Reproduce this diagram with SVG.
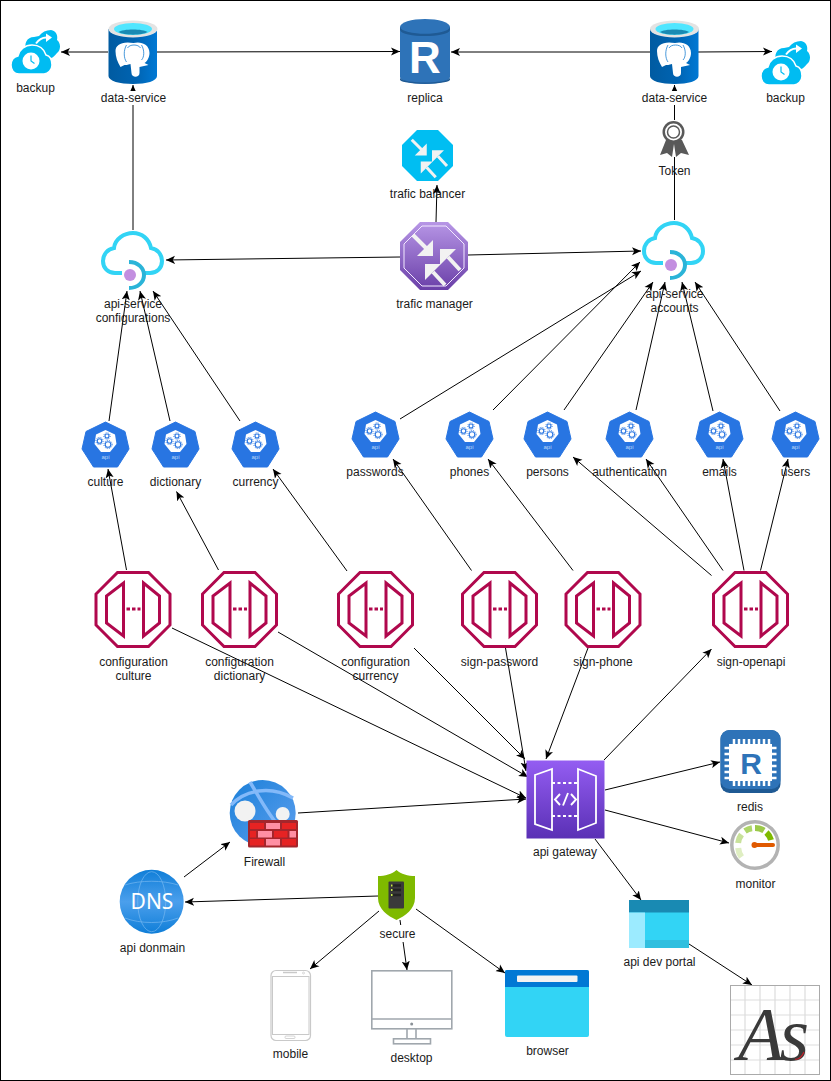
<svg xmlns="http://www.w3.org/2000/svg" xmlns:xlink="http://www.w3.org/1999/xlink" width="831" height="1081" viewBox="0 0 831 1081">
<style>
text{font-family:"Liberation Sans",Arial,Helvetica,sans-serif;font-size:12px;fill:#1a1a1a;text-anchor:middle}
.c path{fill:none;stroke:#000;stroke-width:1;marker-end:url(#ah)}
.bg{fill:#fff}
.oct{fill:none;stroke:#b0084d;stroke-width:3}
.cl{fill:none;stroke:#32d4f5;stroke-width:4}
.brk{fill:#e62323}.brp{fill:#ff8fa3}
</style>
<defs>
<marker id="ah" markerUnits="userSpaceOnUse" markerWidth="9" markerHeight="9" viewBox="0 0 8 8" refX="8" refY="4" orient="auto"><path d="M8,4 L0,0.4 L2,4 L0,7.6 Z" fill="#000"/></marker>
<linearGradient id="gDb" x1="0" x2="1" y1="0" y2="0"><stop offset="0" stop-color="#005ba1"/><stop offset="0.55" stop-color="#0063b1"/><stop offset="1" stop-color="#0078d4"/></linearGradient>
<linearGradient id="gTm" x1="0" x2="0" y1="0" y2="1"><stop offset="0" stop-color="#b796e6"/><stop offset="1" stop-color="#6a3fa8"/></linearGradient>
<linearGradient id="gGw" x1="0" x2="0" y1="0" y2="1"><stop offset="0" stop-color="#945df2"/><stop offset="1" stop-color="#5a30b5"/></linearGradient>
<linearGradient id="gDns" x1="0" x2="0" y1="0" y2="1"><stop offset="0" stop-color="#0f7ed8"/><stop offset="0.5" stop-color="#4b9fec"/><stop offset="1" stop-color="#0f7ed8"/></linearGradient>
<linearGradient id="gGl" x1="0" x2="1" y1="0" y2="1"><stop offset="0" stop-color="#1a7fd8"/><stop offset="1" stop-color="#5ea0ef"/></linearGradient>
<g id="pg">
<path d="M0,9 V56 C0,61 11,64 24.500,64 C38,64 48.500,61 48.500,56 V9 Z" fill="url(#gDb)"/>
<ellipse cx="24.500" cy="9" rx="24.500" ry="8.500" fill="#e3e3e3"/>
<ellipse cx="24.500" cy="9" rx="19" ry="6" fill="#50e6ff"/>
<path d="M10,12 C14,8.500 35,8.500 39,12 C34,15.500 15,15.500 10,12 Z" fill="#198ab3"/>
<path d="M25,23 C32,21 41,24 41,33 C41,38 38,42 36,43 L40,45 L31,47 L31,53 C31,58 23,58 23,53 L22,44 C19,45 17,45 16,45 L12,47 C9,42 7,37 7,31 C7,25 13,21 25,23 Z" fill="#fff"/>
<path d="M18,25 C15,30 15,38 18,42 M33,25 C36,30 36,37 33,40 M19,28 C21,24 30,24 32,28" fill="none" stroke="#1a7fd0" stroke-width="0.800"/>
</g>
<g id="bk">
<path d="M16,21 C12,14 16,7 23,7 L28,6 C31,2 35,0 40,0 C45,1 47,5 46,10 C50,13 50,20 46,23 C44,25 42,28 40,28 L24,28 Z" fill="#00bcf2"/>
<path d="M8,44 C3,44 0,40 0,35 C0,30 3,27 7,26 C8,20 14,15 21,15 C28,15 33,19 35,25 C39,26 41,30 41,35 C41,40 37,44 33,44 Z" fill="#00bcf2" stroke="#fff" stroke-width="1.500"/>
<circle cx="20" cy="31" r="8.500" fill="#fff"/>
<path d="M20,25.500 V31 L23.500,33.500" fill="none" stroke="#00bcf2" stroke-width="1.200"/>
<path d="M25,13.500 C28,9 33,7 37,7.500" fill="none" stroke="#fff" stroke-width="2"/>
<path d="M35,3.500 L41,7.500 L35,12 Z" fill="#fff"/>
</g>
<g id="arr3" fill="none">
<path d="M13,13 L29,29 M48,35 L60,48 M33,50 L45,63" stroke="#f2f2f2" stroke-width="4"/>
<path d="M33,34 H17 L33,18 Z M40,27 V43 L56,27 Z M25,42 V58 L41,42 Z" fill="#f2f2f2"/>
</g>
<g id="cloud">
<path class="cl" d="M22,43 H15 C8,43 3,38 3,31 C3,24 8,19 14,18 C15,9 24,3 33,3 C42,3 49,9 51,18 C57,19 62,24 62,31 C62,38 57,43 50,43 H45"/>
<path d="M29,32 C38,32 44,38 44,45 C44,52 38,58 29,58" fill="none" stroke="#2bb4d8" stroke-width="4"/>
<circle cx="30" cy="45" r="6" fill="#c38fe0"/>
</g>
<g id="k8s">
<path d="M23.500,0 L43,9.500 L47,27 L35.500,45 H11.500 L0,27 L4,9.500 Z" fill="#2875e2" stroke="#2875e2" stroke-linejoin="round"/>
<path d="M23.500,8 L33,12.500 L34.500,22 L28,30 H19 L12.500,22 L14,12.500 Z" fill="#fff"/>
<g fill="none" stroke="#2875e2" stroke-width="1.100"><circle cx="17.500" cy="19" r="2.300"/><circle cx="25" cy="14" r="2"/><circle cx="26" cy="22.500" r="2.800"/></g>
<g fill="none" stroke="#2875e2" stroke-width="1" stroke-dasharray="1,1.200"><circle cx="17.500" cy="19" r="3.600"/><circle cx="25" cy="14" r="3.200"/><circle cx="26" cy="22.500" r="4.100"/></g>
<text x="23.500" y="36.500" style="font-size:6px;fill:#bcd5f8">api</text>
</g>
<g id="api">
<path class="oct" d="M23,1.500 H54 L75.500,23 V54 L54,75.500 H23 L1.500,54 V23 Z"/>
<path class="oct" d="M29,12 V65 L12,52 V25 Z M49,12 V65 L65,52 V25 Z"/>
<path d="M32,38 H46" fill="none" stroke="#b0084d" stroke-width="3" stroke-dasharray="3.500,2"/>
</g>
</defs>
<rect x="0.500" y="0.500" width="830" height="1080" fill="#fff" stroke="#000"/>
<g id="connectors" class="c">
<path d="M108,52 L61,52"/>
<path d="M157,52 L400,51.500"/>
<path d="M650,52 L451,52"/>
<path d="M698,52 L772,51.500"/>
<path d="M133,230 L133,85"/>
<path d="M674.500,220 L674.500,85"/>
<path d="M436,222 L437,185"/>
<path d="M400,257 L166,260"/>
<path d="M468,255 L641,251"/>
<path d="M109,421 L127,291"/>
<path d="M170,421 L140,291"/>
<path d="M240,421 L153,291"/>
<path d="M400,419 L641,271"/>
<path d="M493,410 L640,262"/>
<path d="M564,410 L653,282"/>
<path d="M636,410 L665,282"/>
<path d="M713,411 L682,282"/>
<path d="M780,411 L695,282"/>
<path d="M126.500,570 L108,469"/>
<path d="M218.500,570 L176.500,491.500"/>
<path d="M347,571 L273,469"/>
<path d="M471.500,570.500 L393,459"/>
<path d="M573,570.500 L488,459"/>
<path d="M711.500,575.500 L573,457"/>
<path d="M723,570.500 L646,459"/>
<path d="M744,570.500 L723,459"/>
<path d="M760.500,570.500 L788,459"/>
<path d="M172,628 L526,798"/>
<path d="M278,632 L528,777"/>
<path d="M414,648 L525,759"/>
<path d="M505.500,648 L526,771"/>
<path d="M588,648 L546,759"/>
<path d="M604,760 L711.500,649"/>
<path d="M605,790 L720,762"/>
<path d="M605,810 L729,843"/>
<path d="M595,839 L641,900"/>
<path d="M689,944 L752,985"/>
<path d="M298,813 L526,799"/>
<path d="M184,877 L230,842"/>
<path d="M378,896 L185,902"/>
<path d="M379,911 L310,969"/>
<path d="M400,920 L407,970"/>
<path d="M416,909 L505,973"/>
</g>
<g id="backup-left"><use href="#bk" x="11" y="30"/><text x="35.500" y="92">backup</text></g>
<g id="data-service-left"><use href="#pg" x="108.500" y="20"/><rect class="bg" x="99" y="91" width="69" height="14"/><text x="133.500" y="102">data-service</text></g>
<g id="replica">
<path d="M400,27 V77 C400,81 411,84 425,84 C439,84 450,81 450,77 V27 Z" fill="#2e73b8"/>
<path d="M400,78 C404,84 446,84 450,78 V80 C446,85 404,85 400,80 Z" fill="#1f5a94"/>
<ellipse cx="425" cy="27" rx="25" ry="8" fill="#2e73b8"/>
<path d="M400,27 C402,36 448,36 450,27 V30 C448,38 402,38 400,30 Z" fill="#1f5a94"/>
<text x="425" y="73" style="font-size:44px;font-weight:bold;fill:#fff">R</text>
<text x="425" y="102">replica</text>
</g>
<g id="data-service-right"><use href="#pg" x="650" y="20"/><rect class="bg" x="640" y="91" width="69" height="14"/><text x="674.500" y="102">data-service</text></g>
<g id="backup-right"><use href="#bk" x="761" y="41"/><text x="785.500" y="102">backup</text></g>
<g id="token">
<rect class="bg" x="660" y="120" width="29" height="37"/>
<path d="M666,140 L660,155 L667,153 L672,157 L674,144 L676,157 L681,153 L689,155 L682,140 Z" fill="#595959"/>
<circle cx="673.500" cy="132" r="11" fill="#595959"/>
<circle cx="673.500" cy="132" r="8.500" fill="#fff"/>
<circle cx="673.500" cy="132" r="6" fill="none" stroke="#595959" stroke-width="1.500"/>
<text x="674.500" y="175">Token</text>
</g>
<g id="trafic-balancer">
<path d="M417,130 H438 L453,145 V166 L438,181 H417 L402,166 V145 Z" fill="#00bef2"/>
<use href="#arr3" transform="translate(402,130) scale(0.75)"/>
<text x="427.500" y="198">trafic balancer</text>
</g>
<g id="trafic-manager">
<path d="M420,222 H448 L468,242 V270 L448,290 H420 L400,270 V242 Z" fill="url(#gTm)"/>
<path d="M422,226 H446 L464,244 V268 L446,286 H422 L404,268 V244 Z" fill="none" stroke="#f2e9ff" stroke-width="1"/>
<use href="#arr3" x="400" y="222"/>
<text x="434.500" y="308">trafic manager</text>
</g>
<g id="api-service-configurations"><use href="#cloud" x="100" y="230"/><text x="133" y="308">api-service</text><text x="133" y="322">configurations</text></g>
<g id="api-service-accounts"><use href="#cloud" x="641" y="220"/><text x="674.500" y="298">api-service</text><text x="674.500" y="312">accounts</text></g>
<g id="culture"><use href="#k8s" x="82" y="422"/><text x="105.500" y="486">culture</text></g>
<g id="dictionary"><use href="#k8s" x="152" y="422"/><text x="175.500" y="486">dictionary</text></g>
<g id="currency"><use href="#k8s" x="232" y="422"/><text x="255.500" y="486">currency</text></g>
<g id="passwords"><use href="#k8s" x="352" y="412"/><text x="375" y="476">passwords</text></g>
<g id="phones"><use href="#k8s" x="446" y="412"/><text x="469.500" y="476">phones</text></g>
<g id="persons"><use href="#k8s" x="524" y="412"/><text x="547.500" y="476">persons</text></g>
<g id="authentication"><use href="#k8s" x="606" y="412"/><text x="629.500" y="476">authentication</text></g>
<g id="emails"><use href="#k8s" x="696" y="412"/><text x="719.500" y="476">emails</text></g>
<g id="users"><use href="#k8s" x="772" y="412"/><text x="795.500" y="476">users</text></g>
<g id="configuration-culture"><use href="#api" x="94.500" y="571"/><text x="133.500" y="666">configuration</text><text x="133.500" y="680">culture</text></g>
<g id="configuration-dictionary"><use href="#api" x="201" y="571"/><text x="239.500" y="666">configuration</text><text x="239.500" y="680">dictionary</text></g>
<g id="configuration-currency"><use href="#api" x="337" y="571"/><text x="375.500" y="666">configuration</text><text x="375.500" y="680">currency</text></g>
<g id="sign-password"><use href="#api" x="461" y="571"/><text x="499.500" y="666">sign-password</text></g>
<g id="sign-phone"><use href="#api" x="564.500" y="571"/><text x="603" y="666">sign-phone</text></g>
<g id="sign-openapi"><use href="#api" x="712" y="571"/><text x="751" y="666">sign-openapi</text></g>
<g id="api-gateway">
<rect x="526.500" y="760.500" width="78" height="78" fill="url(#gGw)"/>
<g transform="translate(526,760)" fill="none" stroke="#fff" stroke-width="1.800">
<path d="M9,15 L26,9 V70 L9,64 Z M52,9 L70,16 V63 L52,70 Z"/>
<path d="M26,23 H52 M26,56 H52" stroke-dasharray="3,2.500"/>
<path d="M34,34 L29,39.500 L34,45 M42,33 L37,45.500 M45,34 L50,39.500 L45,45" stroke-width="1.900"/>
</g>
<text x="565" y="856">api gateway</text>
</g>
<g id="redis">
<rect x="720.500" y="730" width="60" height="63" rx="9" fill="#1f5a94"/>
<rect x="720.500" y="730" width="60" height="59" rx="9" fill="#2e73b8"/>
<rect x="729" y="744" width="43" height="37" fill="#fff"/>
<path d="M734,739 V744 M739,739 V744 M744,739 V744 M749,739 V744 M754,739 V744 M759,739 V744 M764,739 V744 M769,739 V744 M734,781 V786 M739,781 V786 M744,781 V786 M749,781 V786 M754,781 V786 M759,781 V786 M764,781 V786 M769,781 V786 M724.500,748 H729 M724.500,754 H729 M724.500,760 H729 M724.500,766 H729 M724.500,772 H729 M724.500,778 H729 M772,748 H776.500 M772,754 H776.500 M772,760 H776.500 M772,766 H776.500 M772,772 H776.500 M772,778 H776.500" stroke="#fff" stroke-width="2.500"/>
<text x="751" y="774" style="font-size:30px;font-weight:bold;fill:#2e73b8">R</text>
<text x="750" y="811">redis</text>
</g>
<g id="monitor">
<circle cx="755" cy="845" r="23.200" fill="#fff" stroke="#b3b3b3" stroke-width="3.500"/>
<g fill="none" stroke-width="6">
<path d="M741.500,857 A17,17 0 0 1 738.200,848" stroke="#dfeec2"/>
<path d="M738.100,843 A17,17 0 0 1 741.500,834.500" stroke="#c8e19a"/>
<path d="M745,831 A17,17 0 0 1 752,828.300" stroke="#aed66a"/>
<path d="M755,828 A17,17 0 0 1 764,830.500" stroke="#9cc94a"/>
<path d="M766.500,832.500 A17,17 0 0 1 771,840" stroke="#7fba00"/>
</g>
<path d="M754,845 H773" stroke="#e05a00" stroke-width="4" stroke-linecap="round"/>
<circle cx="754.500" cy="845" r="3" fill="#e05a00"/>
<text x="755.500" y="888">monitor</text>
</g>
<g id="api-dev-portal">
<rect x="629" y="900" width="60" height="48" fill="#32d4f5"/>
<rect x="629" y="900" width="60" height="12.500" fill="#198ab3"/>
<rect x="629" y="912.500" width="16" height="35.500" fill="#9cebff"/>
<rect x="645" y="940" width="44" height="8" fill="#30bfdf"/>
<text x="659.500" y="966">api dev portal</text>
</g>
<g id="logo">
<rect x="730.500" y="985.500" width="89" height="89" fill="#fff" stroke="#aaa"/>
<path d="M745,986 V1074 M760,986 V1074 M775,986 V1074 M790,986 V1074 M805,986 V1074 M731,1000 H819 M731,1015 H819 M731,1030 H819 M731,1045 H819 M731,1060 H819" stroke="#ddd" stroke-width="1.200"/>
<text x="771" y="1060" style="font-family:'Liberation Serif',serif;font-style:italic;font-size:76px;fill:#3a3a3a;letter-spacing:-5px">As</text>
<path d="M795,1059 C798,1060 801,1058 804,1052" fill="none" stroke="#c8202a" stroke-width="1.200"/>
</g>
<g id="firewall">
<circle cx="262.700" cy="813" r="33" fill="url(#gGl)"/>
<path d="M250,782 C258,795 268,815 282,830 M231,805 C245,790 270,785 293,798" fill="none" stroke="#83b9f9" stroke-width="3.500"/>
<circle cx="245" cy="811" r="10.500" fill="#f2f2f2"/>
<circle cx="282.700" cy="814" r="7" fill="#f2f2f2"/>
<rect x="248" y="820" width="50" height="27.500" rx="1.500" fill="#a4262c"/>
<rect class="brk" x="250" y="823" width="14" height="6"/><rect class="brp" x="266" y="823" width="14" height="6"/><rect class="brk" x="282" y="823" width="14" height="6"/>
<rect class="brk" x="250" y="831" width="6" height="6.500"/><rect class="brp" x="258" y="831" width="14" height="6.500"/><rect class="brk" x="274" y="831" width="13.500" height="6.500"/><rect class="brp" x="289.500" y="831" width="6.500" height="6.500"/>
<rect class="brk" x="250" y="839" width="14" height="6.500"/><rect class="brp" x="266" y="839" width="14" height="6.500"/><rect class="brk" x="282" y="839" width="14" height="6.500"/>
<text x="264.500" y="866">Firewall</text>
</g>
<g id="api-donmain">
<circle cx="151.700" cy="901.700" r="32" fill="url(#gDns)"/>
<g fill="none" stroke="#7fbcf2" stroke-width="0.800" opacity="0.800">
<ellipse cx="151.700" cy="901.700" rx="14" ry="30"/>
<path d="M125,885 C140,880 163,880 178,885 M125,918 C140,924 163,924 178,918"/>
</g>
<text x="152" y="909" style="font-family:'Noto Sans',sans-serif;font-size:21px;fill:#fff">DNS</text>
<text x="152.500" y="952">api donmain</text>
</g>
<g id="secure">
<path d="M396.500,870 C401,874 408,876 415,876 V898 C415,909 405,916 396.500,920 C388,916 378,909 378,898 V876 C385,876 392,874 396.500,870 Z" fill="#7fba00"/>
<rect x="388.500" y="881.500" width="15.500" height="27" rx="1" fill="#3a3a3a"/>
<path d="M391,885.500 H401 M391,890 H401 M391,895 H401" stroke="#222" stroke-width="2.500"/>
<path d="M391,885.500 H392.500 M391,890 H392.500 M391,895 H392.500" stroke="#c6e84a" stroke-width="2"/>
<rect class="bg" x="376" y="925" width="43" height="17"/>
<text x="397.500" y="938">secure</text>
</g>
<g id="mobile">
<rect x="271" y="970.500" width="39.500" height="70" rx="5" fill="#fff" stroke="#c9c9c9" stroke-width="1.200"/>
<rect x="272.500" y="976.500" width="36.500" height="58" fill="none" stroke="#c9c9c9" stroke-width="1"/>
<path d="M283,972.500 H297" stroke="#c9c9c9" stroke-width="1.500"/>
<circle cx="303.500" cy="973" r="1" fill="none" stroke="#c9c9c9" stroke-width="0.700"/>
<rect x="285" y="1036" width="10" height="2.500" rx="1" fill="none" stroke="#c9c9c9" stroke-width="0.800"/>
<text x="290.500" y="1058">mobile</text>
</g>
<g id="desktop">
<rect x="371.800" y="970.800" width="80" height="58" fill="#fff" stroke="#a0a7ad" stroke-width="1.600"/>
<path d="M372,1019 H452 M407,1029 V1038.500 M416,1029 V1038.500" fill="none" stroke="#a0a7ad" stroke-width="1.600"/>
<rect x="393.500" y="1038.800" width="37" height="5" fill="none" stroke="#a0a7ad" stroke-width="1.600"/>
<circle cx="411.700" cy="1024" r="1.500" fill="#8a9197"/>
<text x="411.500" y="1062">desktop</text>
</g>
<g id="browser">
<rect x="505" y="970" width="84" height="67" rx="2" fill="#32d4f5"/>
<path d="M505,987 V972 A2,2 0 0 1 507,970 H587 A2,2 0 0 1 589,972 V987 Z" fill="#0078d4"/>
<rect x="517" y="975.500" width="60.500" height="6.500" rx="1" fill="#f2f2f2"/>
<text x="547.500" y="1055">browser</text>
</g>
</svg>
